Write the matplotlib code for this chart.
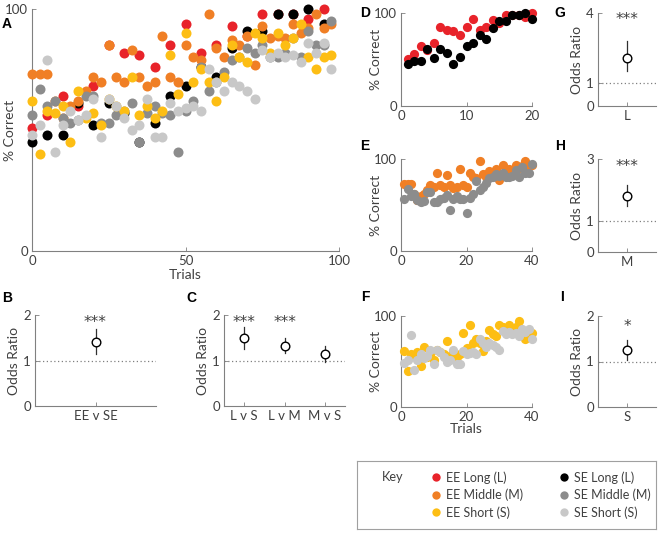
import numpy as np
import matplotlib
matplotlib.use('Agg')
import matplotlib.pyplot as plt
from matplotlib.lines import Line2D

plt.rcParams['font.family'] = ['Lato', 'DejaVu Sans']

ee_long = [51, 56, 64, 60, 68, 85, 82, 81, 76, 85, 94, 82, 85, 93, 89, 98, 98, 98, 96, 100]
se_long = [45, 48, 48, 61, 52, 61, 57, 45, 53, 64, 68, 76, 72, 84, 91, 91, 98, 98, 100, 94]
ee_mid = [73, 73, 73, 62, 55, 60, 62, 66, 72, 70, 85, 72, 70, 83, 72, 68, 70, 89, 72, 70,
          85, 80, 79, 98, 84, 80, 87, 85, 89, 77, 93, 88, 89, 88, 94, 90, 92, 98, 92, 94]
se_mid = [56, 67, 60, 62, 55, 53, 54, 64, 64, 53, 53, 56, 58, 61, 45, 57, 60, 57, 56, 41,
          58, 62, 76, 66, 70, 74, 79, 80, 84, 82, 85, 80, 80, 82, 88, 80, 91, 85, 85, 95]
ee_short = [62, 40, 58, 57, 60, 45, 66, 55, 57, 52, 63, 60, 58, 72, 56, 60, 55, 58, 81, 65,
            90, 70, 75, 70, 62, 72, 85, 80, 78, 90, 88, 82, 90, 85, 88, 94, 80, 75, 80, 81]
se_short = [48, 52, 79, 41, 52, 58, 54, 56, 63, 47, 63, 60, 55, 50, 52, 63, 47, 47, 61, 58,
            59, 60, 58, 75, 70, 66, 70, 68, 66, 63, 83, 80, 82, 80, 81, 78, 86, 82, 86, 75]

# odds ratios: estimate, low, high, stars
or_b_labels = ['EE v SE']
or_b = [1.40]
or_b_lo = [1.14]
or_b_hi = [1.69]
or_b_stars = ['***']

or_c_labels = ['L v S', 'L v M', 'M v S']
or_c = [1.49, 1.32, 1.14]
or_c_lo = [1.25, 1.16, 0.97]
or_c_hi = [1.73, 1.49, 1.32]
or_c_stars = ['***', '***', '']

or_g = [2.08]; or_g_lo = [1.52]; or_g_hi = [2.78]
or_h = [1.81]; or_h_lo = [1.49]; or_h_hi = [2.17]
or_i = [1.255]; or_i_lo = [1.04]; or_i_hi = [1.47]

RED = '#E8232A'
ORANGE = '#F07F25'
YELLOW = '#FDBE14'
BLACK = '#000000'
GREY = '#8C8C8C'
LGREY = '#C8C8C8'
TXT = '#404040'
AX = '#808080'

W, H = 661, 534


def px_axes(fig, x0, y0, x1, y1):
    # axes from pixel box (top-left origin)
    return fig.add_axes([x0 / W, 1 - y1 / H, (x1 - x0) / W, (y1 - y0) / H])


def style(ax):
    for s in ['top', 'right']:
        ax.spines[s].set_visible(False)
    for s in ['left', 'bottom']:
        ax.spines[s].set_color(AX)
        ax.spines[s].set_linewidth(0.8)
    ax.tick_params(direction='in', length=3, width=0.6, color=AX, labelcolor=TXT,
                   labelsize=9.5, pad=3)


def dots(ax, x, y, c, size, label=None):
    return ax.scatter(x, y, s=size, c=c, linewidths=0, clip_on=False, label=label, zorder=3)


def odds(ax, labels, est, lo, hi, stars, ymax, yticks, star_y):
    x = np.arange(1, len(est) + 1)
    ax.axhline(1, color=AX, lw=0.9, ls=(0, (1, 2)), zorder=1)
    for xi, e, l, h, st in zip(x, est, lo, hi, stars):
        ax.plot([xi, xi], [l, h], color='#303030', lw=0.9, zorder=2)
        ax.plot(xi, e, 'o', ms=6.2, mfc='white', mec='black', mew=1.0, zorder=3)
        if st:
            ax.text(xi, star_y, st, ha='center', va='center', fontsize=11,
                    color=TXT, family='DejaVu Sans')
    ax.set_xlim(0.5, len(est) + 0.5)
    ax.set_ylim(0, ymax)
    ax.set_yticks(yticks)
    ax.set_xticks(x)
    ax.set_xticklabels(labels)
    ax.set_ylabel('Odds Ratio', fontsize=10, color=TXT, labelpad=2)
    style(ax)


def main():
    fig = plt.figure(figsize=(W / 100, H / 100), dpi=100)

    series = [(ee_long, RED, 'EE Long (L)'), (se_long, BLACK, 'SE Long (L)'),
              (ee_mid, ORANGE, 'EE Middle (M)'), (se_mid, GREY, 'SE Middle (M)'),
              (ee_short, YELLOW, 'EE Short (S)'), (se_short, LGREY, 'SE Short (S)')]

    # A: all sessions on normalised trial axis
    ax = px_axes(fig, 32, 9, 339, 251)
    for vals, c, lab in series:
        n = len(vals)
        xs = np.arange(n) * 100.0 / n
        dots(ax, xs, vals, c, 52)
    ax.set_xlim(0, 100)
    ax.set_ylim(0, 100)
    ax.set_xticks([0, 50, 100])
    ax.set_yticks([0, 100])
    ax.set_xlabel('Trials', fontsize=10, color=TXT, labelpad=1)
    ax.set_ylabel('% Correct', fontsize=10, color=TXT, labelpad=-8)
    style(ax)

    # D, E, F: per-duration sessions
    handles = {}
    boxes = [(13, 106, 20, [0, 10, 20]), (159, 251, 40, [0, 20, 40]), (316, 407, 40, [0, 20, 40])]
    for i, (y0, y1, n, xt) in enumerate(boxes):
        ax = px_axes(fig, 401, y0, 532, y1)
        for vals, c, lab in series[2 * i:2 * i + 2]:
            handles[lab] = dots(ax, np.arange(1, len(vals) + 1), vals, c, 44, lab)
        ax.set_xlim(0, n)
        ax.set_ylim(0, 100)
        ax.set_xticks(xt)
        ax.set_yticks([0, 100])
        ax.set_ylabel('% Correct', fontsize=10, color=TXT, labelpad=-6)
        if i == 2:
            ax.set_xlabel('Trials', fontsize=10, color=TXT, labelpad=0)
        style(ax)

    # B, C
    ax = px_axes(fig, 35, 315, 156, 406)
    odds(ax, or_b_labels, or_b, or_b_lo, or_b_hi, or_b_stars, 2, [0, 1, 2], 1.84)
    ax = px_axes(fig, 224, 315, 345, 406)
    odds(ax, or_c_labels, or_c, or_c_lo, or_c_hi, or_c_stars, 2, [0, 1, 2], 1.84)

    # G, H, I
    ax = px_axes(fig, 598, 13, 656, 106)
    odds(ax, ['L'], or_g, or_g_lo, or_g_hi, ['***'], 4, [0, 1, 4], 3.72)
    ax = px_axes(fig, 598, 159, 656, 252)
    odds(ax, ['M'], or_h, or_h_lo, or_h_hi, ['***'], 3, [0, 1, 3], 2.76)
    ax = px_axes(fig, 598, 316, 656, 407)
    odds(ax, ['S'], or_i, or_i_lo, or_i_hi, ['*'], 2, [0, 1, 2], 1.78)

    # panel letters
    for lt, x, y in [('A', 7, 24), ('B', 7, 298), ('C', 191, 298), ('D', 365, 13),
                     ('E', 365, 146), ('F', 365, 297), ('G', 560, 13), ('H', 560, 146),
                     ('I', 562, 297)]:
        fig.text(x / W, 1 - y / H, lt, ha='center', va='center', fontsize=10,
                 fontweight='bold', family='Liberation Sans')

    # key box
    lax = px_axes(fig, 357, 461, 656, 529)
    lax.set_xticks([])
    lax.set_yticks([])
    for s in lax.spines.values():
        s.set_color('#A0A0A0')
        s.set_linewidth(0.8)
    lax.text(25 / 299, 0.77, 'Key', fontsize=9.2, color=TXT, va='center', transform=lax.transAxes)
    order = ['EE Long (L)', 'EE Middle (M)', 'EE Short (S)',
             'SE Long (L)', 'SE Middle (M)', 'SE Short (S)']
    hs = [Line2D([], [], ls='', marker='o', ms=6, mew=0,
                 mfc=handles[o].get_facecolor()[0]) for o in order]
    leg = lax.legend(hs, order, ncol=2, frameon=False, loc='center left',
                     bbox_to_anchor=(75 / 299, 0.5), fontsize=9, handlelength=0.6,
                     handletextpad=0.55, columnspacing=2.9, labelspacing=0.4,
                     borderpad=0, borderaxespad=0)
    for t in leg.get_texts():
        t.set_color(TXT)

    fig.savefig('out.png', dpi=100)


if __name__ == '__main__':
    main()
